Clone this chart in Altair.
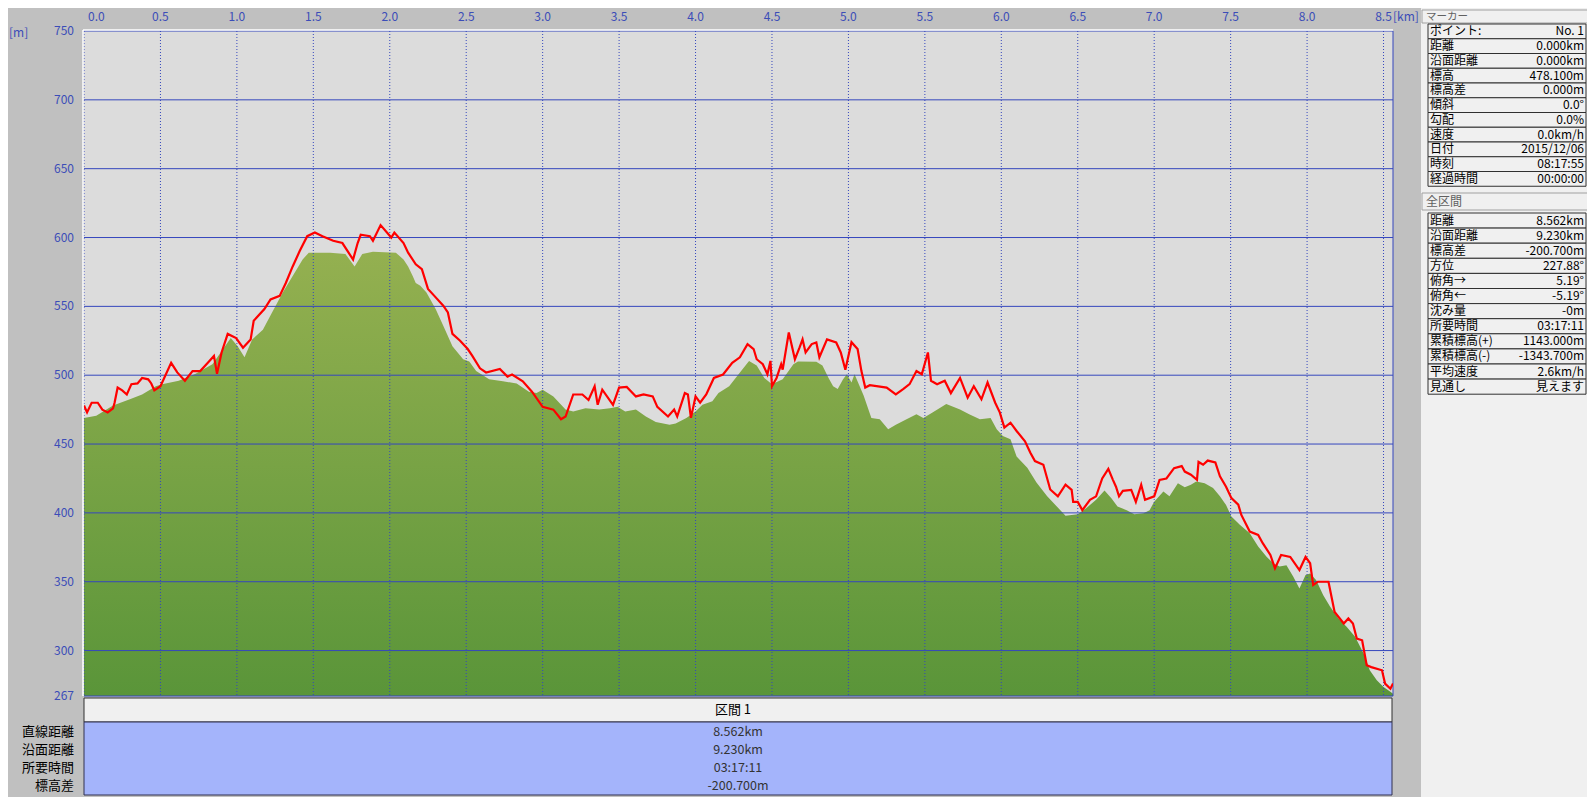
import altair as alt
import pandas as pd

# ---------------- data ----------------
track_km = [0.000, 0.020, 0.050, 0.090, 0.120, 0.155, 0.190, 0.200, 0.220, 0.250, 0.280, 0.310, 0.350, 0.380,
            0.420, 0.440, 0.460, 0.500, 0.570, 0.610, 0.660, 0.710, 0.760, 0.810, 0.850, 0.870, 0.900, 0.940,
            0.995, 1.040, 1.090, 1.110, 1.180, 1.220, 1.280, 1.320, 1.365, 1.410, 1.460, 1.510, 1.560, 1.630,
            1.690, 1.760, 1.790, 1.810, 1.870, 1.890, 1.940, 2.010, 2.030, 2.090, 2.120, 2.170, 2.210, 2.250,
            2.290, 2.350, 2.380, 2.410, 2.460, 2.510, 2.540, 2.590, 2.630, 2.720, 2.770, 2.800, 2.870, 2.930,
            3.000, 3.070, 3.120, 3.150, 3.200, 3.260, 3.300, 3.340, 3.360, 3.390, 3.460, 3.500, 3.550, 3.610,
            3.660, 3.720, 3.750, 3.820, 3.860, 3.880, 3.930, 3.950, 3.970, 4.000, 4.030, 4.070, 4.120, 4.180,
            4.240, 4.290, 4.340, 4.380, 4.400, 4.440, 4.470, 4.490, 4.500, 4.530, 4.560, 4.570, 4.610, 4.650,
            4.680, 4.700, 4.720, 4.760, 4.790, 4.810, 4.860, 4.920, 4.950, 4.980, 5.020, 5.060, 5.085, 5.110,
            5.140, 5.250, 5.310, 5.360, 5.400, 5.445, 5.480, 5.520, 5.540, 5.580, 5.630, 5.670, 5.730, 5.780,
            5.820, 5.870, 5.910, 5.960, 5.990, 6.020, 6.060, 6.100, 6.155, 6.190, 6.220, 6.275, 6.320, 6.370,
            6.420, 6.460, 6.470, 6.500, 6.530, 6.580, 6.620, 6.660, 6.700, 6.730, 6.750, 6.770, 6.795, 6.850,
            6.880, 6.915, 6.940, 7.000, 7.035, 7.080, 7.130, 7.180, 7.200, 7.240, 7.280, 7.290, 7.320, 7.350,
            7.400, 7.430, 7.470, 7.505, 7.550, 7.570, 7.625, 7.680, 7.710, 7.760, 7.790, 7.830, 7.890, 7.950,
            7.990, 8.020, 8.040, 8.070, 8.140, 8.180, 8.240, 8.270, 8.300, 8.325, 8.360, 8.390, 8.420, 8.490,
            8.510, 8.545, 8.562]
track_m = [478, 473, 480, 480, 475, 473, 476, 480, 491, 489, 486, 493.5, 494, 498,
           497, 494, 489, 492, 509, 502, 496, 503, 503, 509, 514, 501, 516.5, 530,
           527, 520, 526, 539.5, 548, 555, 557.6, 567, 579, 590, 601, 603.6, 601, 597.6,
           596, 584, 596, 602, 601, 597.6, 609, 600, 603.6, 596, 589, 580.6, 577, 562.7,
           557.8, 550.5, 545.6, 530, 525, 519, 514, 505, 502, 504.6, 499, 500.5, 495.6, 488,
           477, 475, 468, 470, 486, 486, 482, 492, 478.5, 489.5, 478.5, 491, 491.5, 484.6,
           486, 484.6, 477, 470, 475, 470, 487, 486, 469, 484.6, 480, 486, 498, 500.5,
           509, 513, 522.6, 519, 511.6, 508, 500.7, 510.4, 492, 498, 508, 504, 531, 511.6,
           520, 526, 516.5, 522.6, 523.8, 513, 526, 523.8, 516.5, 504, 524, 519, 503, 491,
           492.7, 491, 486, 490, 493.5, 503, 500.7, 516.5, 496, 493.5, 496, 487, 498, 483.7,
           492, 482.5, 494.7, 480, 473, 462, 465.5, 459.5, 452, 443.7, 437.6, 435, 417, 412,
           420.5, 416.7, 408, 408, 402, 409.5, 412, 425, 432, 424, 419, 412, 416, 416.7,
           408, 420.4, 409.5, 412, 424, 425, 432.5, 434, 430, 427.7, 424, 437, 435, 438,
           436.6, 426.5, 419, 410.7, 406, 398.5, 386.4, 384, 378, 369.4, 359.7, 369.4, 368, 358.5,
           368, 363.4, 347.6, 350, 350, 328, 319.7, 323.3, 319.7, 308.7, 307.5, 289.3, 288, 285.7,
           276, 272.3, 276]

terrain_km = [0.000, 0.080, 0.190, 0.300, 0.380, 0.470, 0.510, 0.620, 0.730, 0.840, 0.910, 0.960, 1.005,
              1.050, 1.100, 1.170, 1.230, 1.300, 1.365, 1.430, 1.470, 1.610, 1.710, 1.770, 1.820, 1.890,
              2.040, 2.090, 2.120, 2.150, 2.170, 2.200, 2.240, 2.300, 2.350, 2.410, 2.480, 2.520, 2.565,
              2.650, 2.740, 2.830, 2.910, 2.960, 3.000, 3.070, 3.150, 3.200, 3.280, 3.370, 3.440, 3.490,
              3.540, 3.610, 3.675, 3.740, 3.830, 3.870, 3.940, 4.000, 4.045, 4.110, 4.150, 4.220, 4.280,
              4.350, 4.400, 4.450, 4.500, 4.570, 4.640, 4.670, 4.790, 4.830, 4.870, 4.900, 4.930, 4.965,
              4.990, 5.020, 5.040, 5.100, 5.150, 5.205, 5.260, 5.310, 5.380, 5.445, 5.490, 5.550, 5.640,
              5.730, 5.790, 5.860, 5.930, 5.970, 6.010, 6.060, 6.100, 6.170, 6.230, 6.300, 6.360, 6.420,
              6.500, 6.555, 6.620, 6.675, 6.720, 6.760, 6.820, 6.870, 6.930, 6.970, 7.000, 7.060, 7.100,
              7.155, 7.200, 7.240, 7.275, 7.330, 7.385, 7.430, 7.470, 7.505, 7.560, 7.625, 7.680, 7.735,
              7.780, 7.820, 7.865, 7.910, 7.950, 7.990, 8.020, 8.060, 8.105, 8.150, 8.205, 8.260, 8.314,
              8.370, 8.410, 8.456, 8.500, 8.545, 8.562]
terrain_m = [469, 470.5, 478, 482.6, 486, 492, 493.5, 496, 501, 508, 519, 527, 521,
             513, 526, 533, 545.5, 560, 572, 584, 589, 589, 588, 579, 588, 589.6,
             589, 584, 579, 572, 567, 565, 560, 548, 536, 521, 511.5, 510, 503,
             497, 495.6, 494, 488, 487, 489.5, 484.6, 475, 473.7, 476, 475, 476, 477,
             473.7, 475, 470, 466, 464, 465, 469, 473.7, 478.5, 481, 487, 492, 500.5,
             510.4, 507, 498, 493.4, 497, 508, 510, 509.7, 507, 498, 492, 490, 497,
             500.7, 494.7, 500.7, 485, 469, 468, 460.7, 464, 468, 471.6, 469, 473, 479,
             475, 471.6, 468, 469, 460.7, 455.8, 453.4, 441, 432.8, 422, 412, 405, 398,
             399, 403.4, 409.5, 416.3, 410.7, 404.6, 402, 399, 399.8, 402, 408, 415.5, 412,
             421.6, 418.7, 420.4, 422.8, 421.6, 418, 412, 405.8, 397.3, 391.3, 385.2, 375.5, 368.2,
             363.4, 361, 362, 353.6, 345, 354.8, 356, 351, 340.3, 332, 323.3, 317.2, 310,
             297.8, 285.7, 278.4, 273.5, 270, 268.7]

x_ticks = [0.0, 0.5, 1.0, 1.5, 2.0, 2.5, 3.0, 3.5, 4.0, 4.5, 5.0, 5.5, 6.0, 6.5, 7.0, 7.5, 8.0, 8.5]
y_ticks = [750, 700, 650, 600, 550, 500, 450, 400, 350, 300, 267]
x_unit = "[km]"
y_unit = "[m]"

marker_title = "マーカー"
marker_labels = ["ポイント:", "距離", "沿面距離", "標高", "標高差", "傾斜", "勾配", "速度", "日付", "時刻", "経過時間"]
marker_values = ["No. 1", "0.000km", "0.000km", "478.100m", "0.000m", "0.0°", "0.0%", "0.0km/h",
                 "2015/12/06", "08:17:55", "00:00:00"]

total_title = "全区間"
total_labels = ["距離", "沿面距離", "標高差", "方位", "俯角→", "俯角←", "沈み量", "所要時間",
                "累積標高(+)", "累積標高(-)", "平均速度", "見通し"]
total_values = ["8.562km", "9.230km", "-200.700m", "227.88°", "5.19°", "-5.19°", "-0m", "03:17:11",
                "1143.000m", "-1343.700m", "2.6km/h", "見えます"]

section_title = "区間 1"
section_labels = ["直線距離", "沿面距離", "所要時間", "標高差"]
section_values = ["8.562km", "9.230km", "03:17:11", "-200.700m"]

# ---------------- layout / style ----------------
W, H = 1309, 665
PAD = {"left": 76, "top": 23, "right": 194, "bottom": 101}
FONT = "Noto Sans CJK JP"
GRID = "#3547bd"
LBL = "#3b4db8"


def px(page_x):
    return page_x - 84


def py(page_y):
    return page_y - 31


x_scale = alt.Scale(domain=[0, 8.562], nice=False, zero=False)
y_scale = alt.Scale(domain=[267, 750], nice=False, zero=False)

terrain_df = pd.DataFrame({"km": terrain_km, "m": terrain_m})
track_df = pd.DataFrame({"km": track_km, "m": track_m})
one = pd.DataFrame({"k": [0]})

layers = []

# right side panel background
layers.append(alt.Chart(one).mark_rect(fill="#f0f0f0").encode(
    x=alt.value(px(1421)), x2=alt.value(W + 400), y=alt.value(-40), y2=alt.value(H + 200)))

# terrain area
layers.append(alt.Chart(terrain_df).mark_area(
    clip=True,
    color=alt.Gradient(gradient="linear",
                       stops=[alt.GradientStop(color="#94b050", offset=0),
                              alt.GradientStop(color="#5a9539", offset=1)],
                       x1=1, x2=1, y1=0, y2=1),
).encode(
    x=alt.X("km:Q", scale=x_scale, axis=None),
    y=alt.Y("m:Q", scale=y_scale, axis=None),
    y2=alt.datum(267),
))

# grid lines
layers.append(alt.Chart(pd.DataFrame({"yt": y_ticks})).mark_rule(color=GRID, strokeWidth=1).encode(
    y=alt.Y("yt:Q", scale=y_scale, axis=None)))
layers.append(alt.Chart(pd.DataFrame({"xt": x_ticks})).mark_rule(
    color=GRID, strokeWidth=1, strokeDash=[1, 2]).encode(
    x=alt.X("xt:Q", scale=x_scale, axis=None)))
layers.append(alt.Chart(one).mark_rule(color=GRID, strokeWidth=1).encode(
    x=alt.value(W), y=alt.value(0), y2=alt.value(H)))

# GPS track line
layers.append(alt.Chart(track_df).mark_line(color="#ff0000", strokeWidth=2.2, clip=True).encode(
    x=alt.X("km:Q", scale=x_scale, axis=None),
    y=alt.Y("m:Q", scale=y_scale, axis=None),
))

# white inset edge
layers.append(alt.Chart(one).mark_rule(color="white", strokeWidth=1.5).encode(
    x=alt.value(-1), y=alt.value(-1), y2=alt.value(H)))
layers.append(alt.Chart(one).mark_rule(color="white", strokeWidth=1.5).encode(
    x=alt.value(-1), x2=alt.value(W), y=alt.value(-1)))

# tick labels (drawn through the scales)
layers.append(alt.Chart(pd.DataFrame({"xt": x_ticks[:1]})).mark_text(
    align="left", baseline="middle", dx=4, font=FONT, fontSize=12, color=LBL).encode(
    x=alt.X("xt:Q", scale=x_scale, axis=None), y=alt.value(py(17)),
    text=alt.Text("xt:Q", format=".1f")))
layers.append(alt.Chart(pd.DataFrame({"xt": x_ticks[1:]})).mark_text(
    align="center", baseline="middle", font=FONT, fontSize=12, color=LBL).encode(
    x=alt.X("xt:Q", scale=x_scale, axis=None), y=alt.value(py(17)),
    text=alt.Text("xt:Q", format=".1f")))
layers.append(alt.Chart(pd.DataFrame({"yt": y_ticks})).mark_text(
    align="right", baseline="middle", font=FONT, fontSize=12, color=LBL).encode(
    y=alt.Y("yt:Q", scale=y_scale, axis=None), x=alt.value(px(74)),
    text=alt.Text("yt:Q", format="d")))

# unit labels
layers.append(alt.Chart(one).mark_text(text=x_unit, align="left", baseline="middle", font=FONT,
                                       fontSize=12, color=LBL).encode(
    x=alt.value(px(1393)), y=alt.value(py(17))))
layers.append(alt.Chart(one).mark_text(text=y_unit, align="left", baseline="middle", font=FONT,
                                       fontSize=12, color=LBL).encode(
    x=alt.value(px(9)), y=alt.value(py(33))))


def header(title, x0, x1, y0, y1, size=12):
    return [alt.Chart(one).mark_rect(fill="#f0f0f0", stroke="#a0a0a0", strokeWidth=1).encode(
        x=alt.value(x0), x2=alt.value(x1), y=alt.value(y0), y2=alt.value(y1)),
        alt.Chart(one).mark_text(text=title, align="left", baseline="middle", font=FONT,
                                 fontSize=size, color="#606060").encode(
            x=alt.value(x0 + 4), y=alt.value((y0 + y1) / 2 + 0.5))]


def table(labels, values, left, right, top, rh):
    df = pd.DataFrame({"label": labels, "value": values, "i": list(range(len(labels)))})
    base = alt.Chart(df).transform_calculate(
        y0=f"{top} + datum.i * {rh}",
        y1=f"{top} + (datum.i + 1) * {rh}",
        yc=f"{top} + (datum.i + 0.5) * {rh}",
    )
    rows = base.mark_rect(fill="#f0f0f0", stroke="#303030", strokeWidth=1).encode(
        x=alt.value(left), x2=alt.value(right),
        y=alt.Y("y0:Q", scale=None, axis=None), y2=alt.Y2("y1:Q"))
    lab = base.mark_text(align="left", baseline="middle", font=FONT, fontSize=12, color="black").encode(
        x=alt.value(left + 2), y=alt.Y("yc:Q", scale=None, axis=None), text="label:N")
    val = base.mark_text(align="right", baseline="middle", font=FONT, fontSize=12, color="black").encode(
        x=alt.value(right - 2), y=alt.Y("yc:Q", scale=None, axis=None), text="value:N")
    return [rows, lab, val]


layers += header(marker_title, px(1422), px(1600), py(10), py(23), size=10.5)
layers += table(marker_labels, marker_values, px(1428), px(1586), py(24), 14.75)
layers += header(total_title, px(1422), px(1600), py(193), py(210))
layers += table(total_labels, total_values, px(1428), px(1586), py(213), 15.1)

# bottom section table
layers.append(alt.Chart(one).mark_rect(fill="#f0f0f0", stroke="#303030", strokeWidth=1).encode(
    x=alt.value(0), x2=alt.value(px(1392)), y=alt.value(py(698)), y2=alt.value(py(722))))
layers.append(alt.Chart(one).mark_text(text=section_title, align="center", baseline="middle", font=FONT,
                                       fontSize=13, color="black").encode(
    x=alt.value(px(733)), y=alt.value(py(710))))
layers.append(alt.Chart(one).mark_rect(fill="#a4b4fb", stroke="#303050", strokeWidth=1).encode(
    x=alt.value(0), x2=alt.value(px(1392)), y=alt.value(py(722)), y2=alt.value(py(795))))

sec_df = pd.DataFrame({"label": section_labels, "value": section_values,
                       "i": list(range(len(section_labels)))})
sec_base = alt.Chart(sec_df).transform_calculate(yc=f"{py(732)} + datum.i * 17.9")
layers.append(sec_base.mark_text(align="right", baseline="middle", font=FONT, fontSize=13,
                                 color="black").encode(
    x=alt.value(px(74)), y=alt.Y("yc:Q", scale=None, axis=None), text="label:N"))
layers.append(sec_base.mark_text(align="center", baseline="middle", font=FONT, fontSize=12.5,
                                 color="#333333").encode(
    x=alt.value(px(738)), y=alt.Y("yc:Q", scale=None, axis=None), text="value:N"))

chart = alt.layer(*layers).properties(
    width=W, height=H, padding=PAD, autosize=alt.AutoSizeParams(type="none"),
).configure(background="#c0c0c0").configure_view(fill="#dcdcdc", stroke=None)

chart.save("out.html", embed_options={"renderer": "svg", "actions": False})
